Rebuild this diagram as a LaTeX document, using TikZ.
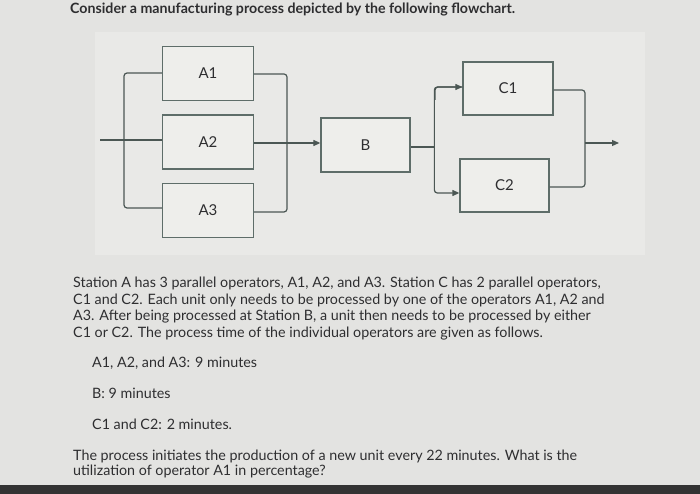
\documentclass[tikz,border=0pt]{standalone}
\usepackage{fontspec}
\setmainfont{Lato}
\usetikzlibrary{arrows.meta}
\definecolor{bg}{HTML}{E3E3E1}
\definecolor{panel}{HTML}{E9E9E7}
\definecolor{boxf}{HTML}{EEEEEB}
\definecolor{edge}{HTML}{5E6D69}
\definecolor{txt}{HTML}{2E2E30}
\begin{document}
\begin{tikzpicture}[x=1pt,y=-1pt,
  opbox/.style={draw=edge,line width=1.3pt,fill=boxf,minimum width=91pt,minimum height=54pt,inner sep=0pt,text=txt,font=\fontsize{15}{17}\selectfont},
  wire/.style={draw=edge!80!black,line width=1.2pt,rounded corners=3pt},
  arr/.style={wire,-{Triangle[length=7pt,width=6pt]}},
  line/.style={anchor=west,text=txt,font=\fontsize{14.3}{16}\selectfont,inner sep=0pt}]
\useasboundingbox (0,0) rectangle (700,494);
\fill[bg] (0,0) rectangle (700,494);
\fill[panel] (95,32) rectangle (645,255);
\fill[black!80] (0,485) rectangle (700,494);
\node[anchor=west,text=txt,font=\bfseries\fontsize{14.2}{16}\selectfont,inner sep=0pt] (title) at (70,10) {Consider a manufacturing process depicted by the following flowchart.};
\node[opbox] (A1) at (208,73.5) {A1};
\node[opbox] (A2) at (208,142) {A2};
\node[opbox] (A3) at (208,210.5) {A3};
\node[opbox,minimum width=89pt] (B) at (365.5,145) {B};
\node[opbox,minimum width=90pt,minimum height=53pt] (C1) at (508,88.5) {C1};
\node[opbox,minimum width=89pt,minimum height=53pt] (C2) at (504.5,185.5) {C2};
\coordinate (in) at (100,140);
\coordinate (out) at (619,143);
\draw[wire] (in) -- (A2.west |- in);
\draw[wire] (A1.west |- 0,73) -- (124,73) -- (124,208) -- (A3.west |- 0,208);
\draw[wire] (A1.east |- 0,74) -- (287,74) -- (287,212) -- (A3.east |- 0,212);
\draw[arr] (A2.east |- 0,143) -- (B.west |- 0,143);
\draw[wire] (B.east |- 0,147) -- (435,147);
\draw[arr] (C1.west |- 0,87) -- ++(-28,0) |- (C2.west |- 0,193);
\draw[arr] (435,100) -- (435,87) -- (C1.west |- 0,87);
\draw[wire] (C1.east |- 0,90) -- (585,90) -- (585,187) -- (C2.east |- 0,187);
\draw[arr] (585,143) -- (out);
\node[line] (p1) at (73,283) {Station A has 3 parallel operators, A1, A2, and A3. Station C has 2 parallel operators,};
\node[line] (p2) at (73,300) {C1 and C2. Each unit only needs to be processed by one of the operators A1, A2 and};
\node[line] (p3) at (73,317) {A3. After being processed at Station B, a unit then needs to be processed by either};
\node[line] (p4) at (73,334) {C1 or C2. The process time of the individual operators are given as follows.};
\node[line] (t1) at (92,363) {A1, A2, and A3: 9 minutes};
\node[line] (t2) at (92,393) {B: 9 minutes};
\node[line] (t3) at (92,424) {C1 and C2: 2 minutes.};
\node[line] (q1) at (73,456) {The process initiates the production of a new unit every 22 minutes. What is the};
\node[line] (q2) at (73,472) {utilization of operator A1 in percentage?};
\end{tikzpicture}
\end{document}
